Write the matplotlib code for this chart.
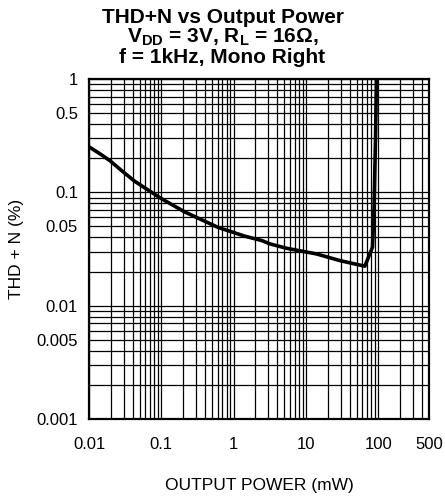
import matplotlib
matplotlib.use('Agg')
import matplotlib.pyplot as plt
from matplotlib.ticker import FixedLocator, FixedFormatter, LogLocator, NullFormatter

plt.rcParams['font.family'] = ['Liberation Sans', 'DejaVu Sans']
plt.rcParams['mathtext.fontset'] = 'custom'
plt.rcParams['mathtext.rm'] = 'Liberation Sans'
plt.rcParams['mathtext.bf'] = 'Liberation Sans:bold'

# curve
power = [0.01, 0.014, 0.0195, 0.0298, 0.043, 0.1, 0.212, 0.61, 1.43, 2.43, 3.16,
         5.37, 13.96, 29.3, 65, 82.8, 87, 91, 94, 95]
thd = [0.252, 0.22, 0.19, 0.151, 0.125, 0.088, 0.067, 0.049, 0.041, 0.0376, 0.0351,
       0.0321, 0.0286, 0.025, 0.0223, 0.0328, 0.072, 0.28, 1.0, 1.2]

xticks = [0.01, 0.1, 1, 10, 100, 500]
xticklabels = ['0.01', '0.1', '1', '10', '100', '500']
yticks = [0.001, 0.005, 0.01, 0.05, 0.1, 0.5, 1]
yticklabels = ['0.001', '0.005', '0.01', '0.05', '0.1', '0.5', '1']

fig = plt.figure(figsize=(4.45, 4.98), dpi=100)
ax = fig.add_axes([0.2, 0.1586, 0.764, 0.6828])

ax.plot(power, thd, color='black', lw=2.6, solid_capstyle='butt', zorder=3)

ax.set_xscale('log')
ax.set_yscale('log')
ax.set_xlim(0.01, 500)
ax.set_ylim(0.001, 1)

# grid on every decade sub-division
ax.xaxis.set_minor_locator(LogLocator(base=10, subs=range(2, 10), numticks=20))
ax.yaxis.set_minor_locator(LogLocator(base=10, subs=range(2, 10), numticks=20))
ax.xaxis.set_minor_formatter(NullFormatter())
ax.yaxis.set_minor_formatter(NullFormatter())
ax.grid(which='major', color='black', lw=0.9)
ax.grid(which='minor', color='black', lw=0.9)
ax.set_axisbelow(True)

ax.xaxis.set_major_locator(FixedLocator(xticks))
ax.xaxis.set_major_formatter(FixedFormatter(xticklabels))
ax.yaxis.set_major_locator(FixedLocator(yticks))
ax.yaxis.set_major_formatter(FixedFormatter(yticklabels))
ax.tick_params(which='both', length=0)
ax.tick_params(axis='x', labelsize=12, pad=13)
ax.tick_params(axis='y', labelsize=12, pad=8)

for s in ax.spines.values():
    s.set_linewidth(1.6)

ax.set_xlabel('OUTPUT POWER (mW)', fontsize=12.5, labelpad=19)
ax.set_ylabel('THD + N (%)', fontsize=12.5, labelpad=9)

fig.text(0.5, 0.964, 'THD+N vs Output Power', ha='center', va='center',
         fontsize=15, fontweight='bold')
fig.text(0.5, 0.925, r'V$_{\mathbf{DD}}$ = 3V, R$_{\mathbf{L}}$ = 16Ω,',
         ha='center', va='center', fontsize=15, fontweight='bold')
fig.text(0.5, 0.885, 'f = 1kHz, Mono Right', ha='center', va='center',
         fontsize=15, fontweight='bold')

plt.savefig('out.png', dpi=100)
